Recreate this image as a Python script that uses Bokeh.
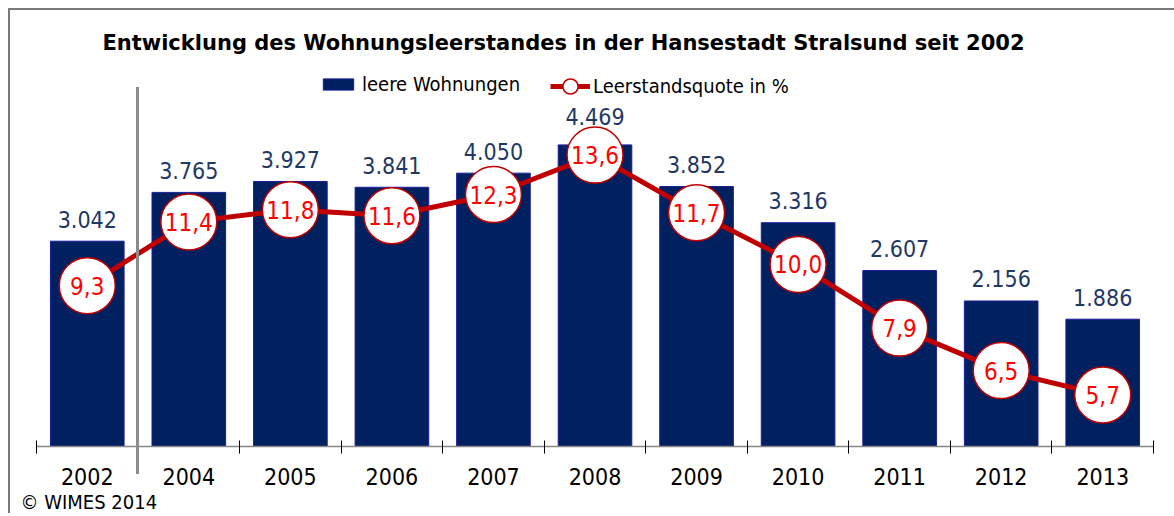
from bokeh.plotting import figure
from bokeh.models import (Range1d, LinearAxis, FixedTicker, Legend, LegendItem,
                          Label, Title, ColumnDataSource, InlineStyleSheet)
from bokeh.core.properties import value
from bokeh.embed import file_html
from bokeh.resources import INLINE

# Data
years = ["2002", "2004", "2005", "2006", "2007", "2008", "2009", "2010", "2011", "2012", "2013"]
vacant_flats = [3042, 3765, 3927, 3841, 4050, 4469, 3852, 3316, 2607, 2156, 1886]
vacancy_rate = [9.3, 11.4, 11.8, 11.6, 12.3, 13.6, 11.7, 10.0, 7.9, 6.5, 5.7]

TITLE = "Entwicklung des Wohnungsleerstandes in der Hansestadt Stralsund seit 2002"
NAVY = "#002060"
RED_LINE = "#c00000"
RED_TEXT = "#ff0000"
LABEL_NAVY = "#1f3864"
FONT = "DejaVu Sans Condensed, DejaVu Sans"

# Plot frame geometry (pixels)
FRAME_LEFT, FRAME_TOP = 36, 8
FRAME_W, FRAME_H = 1117, 438

# Vertical gap (px) between bar top and its value label; the 2008 label
# sits a little higher so it clears the marker below it
label_lift = [-22] * len(years)
label_lift[years.index("2008")] = -28

xs = [i + 0.5 for i in range(len(years))]
src = ColumnDataSource(dict(
    x=xs,
    flats=vacant_flats,
    rate=vacancy_rate,
    lift=label_lift,
    flats_txt=[f"{v:,}".replace(",", ".") for v in vacant_flats],
    rate_txt=[f"{v:.1f}".replace(".", ",") for v in vacancy_rate],
))

p = figure(frame_width=FRAME_W, frame_height=FRAME_H, output_backend="svg", toolbar_location=None,
           x_range=Range1d(0, len(years)), y_range=Range1d(0, 6490),
           x_axis_location=None, y_axis_location=None,
           min_border_left=FRAME_LEFT, min_border_right=21, min_border_top=FRAME_TOP,
           min_border_bottom=0)
p.outline_line_color = None
p.grid.visible = False
p.background_fill_color = "white"
p.border_fill_color = "white"
p.extra_y_ranges = {"rate": Range1d(4.0, 18.43)}

# Separator after the first category (2002), reaching below the axis
sep_x = FRAME_LEFT + FRAME_W / len(years) * 1 - 1.5

# Thin frame around the whole graphic (top and left edges) and the separator
p.stylesheets = [InlineStyleSheet(css=f"""
:host::after {{
  content: "";
  position: absolute;
  left: 8px; top: 8px;
  width: calc(100% - 8px); height: calc(100% - 8px);
  box-sizing: border-box;
  border-left: 2px solid #7a7a7a;
  border-top: 2px solid #7a7a7a;
  pointer-events: none;
}}
:host::before {{
  content: "";
  position: absolute;
  left: {sep_x:.1f}px; top: 87px;
  width: 3px; height: 387px;
  background: #8c8c8c;
  z-index: 10;
  pointer-events: none;
}}
""")]

# Category axis: labels centred, ticks on the category boundaries
xaxis = LinearAxis(ticker=FixedTicker(ticks=xs, minor_ticks=list(range(len(years) + 1))))
xaxis.major_label_overrides = {x: y for x, y in zip(xs, years)}
xaxis.major_tick_line_color = None
xaxis.major_tick_in = 0
xaxis.major_tick_out = 0
xaxis.minor_tick_line_color = "black"
xaxis.minor_tick_in = 6
xaxis.minor_tick_out = 7
xaxis.axis_line_color = "#868686"
xaxis.axis_line_width = 1.5
xaxis.major_label_text_font = FONT
xaxis.major_label_text_font_size = "23px"
xaxis.major_label_text_color = "black"
xaxis.major_label_standoff = 14
p.add_layout(xaxis, "below")

p.add_layout(Title(text="© WIMES 2014", align="left", offset=-16, standoff=0,
                   text_font=FONT, text_font_style="normal", text_font_size="20px",
                   text_color="black"), "below")

bars = p.vbar(x="x", top="flats", width=0.725, source=src,
              fill_color=NAVY, line_color="#1c1c9c", line_width=1)

p.text(x="x", y="flats", text="flats_txt", source=src, y_offset="lift",
       text_align="center", text_baseline="middle", text_color=LABEL_NAVY,
       text_font=value(FONT), text_font_size="23px")

line = p.line(x="x", y="rate", source=src, y_range_name="rate",
              line_color=RED_LINE, line_width=5)
dots = p.scatter(x="x", y="rate", source=src, y_range_name="rate", size=56,
                 fill_color="white", line_color=RED_LINE, line_width=1.5)
p.text(x="x", y="rate", text="rate_txt", source=src, y_range_name="rate",
       text_align="center", text_baseline="middle", text_color=RED_TEXT,
       text_font=value(FONT), text_font_size="24px")

legend_common = dict(orientation="horizontal", label_text_font=FONT,
                     label_text_font_size="20px", label_text_color="black",
                     padding=0, margin=0, border_line_color=None, background_fill_alpha=0)
p.add_layout(Legend(items=[LegendItem(label="leere Wohnungen", renderers=[bars])],
                    location=(283, 350), glyph_width=38, glyph_height=14,
                    label_standoff=5, **legend_common), "center")
p.add_layout(Legend(items=[LegendItem(label="Leerstandsquote in %", renderers=[line, dots])],
                    location=(514, 341), glyph_width=40, glyph_height=38,
                    label_standoff=3, **legend_common), "center")

p.add_layout(Label(x=563, y=42, x_units="canvas", y_units="canvas", text=TITLE,
                   text_align="center", text_baseline="middle",
                   text_font="DejaVu Sans", text_font_style="bold",
                   text_font_size="21px", text_color="black"))

open("out.html", "w").write(file_html(p, INLINE))
